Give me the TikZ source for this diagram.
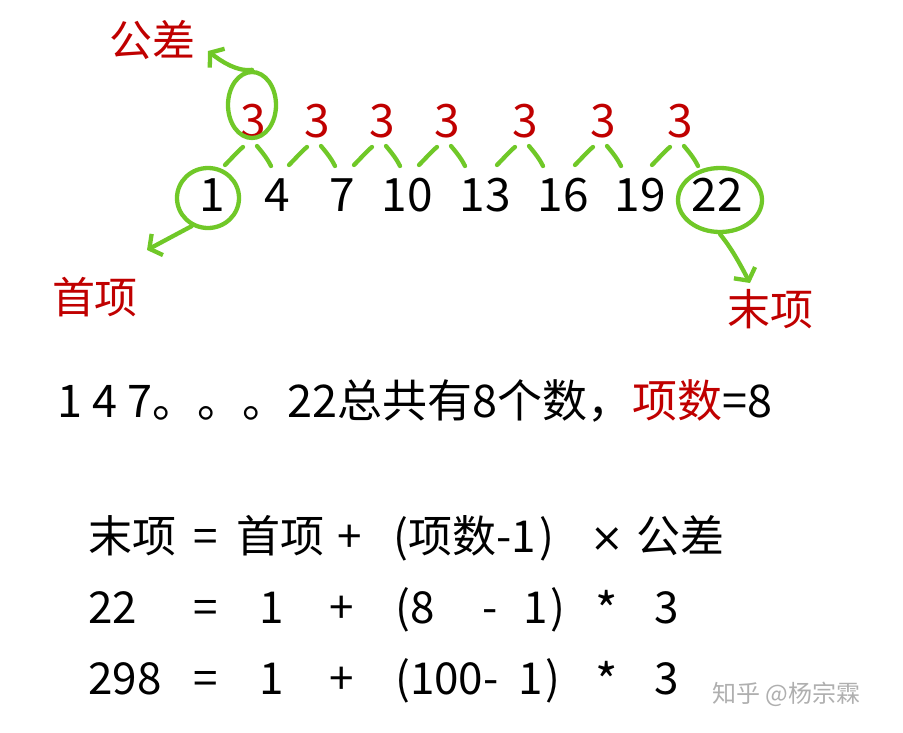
\documentclass[tikz,border=0pt]{standalone}
\usepackage{fontspec}
\setmainfont{Noto Sans CJK SC}
\newfontfamily\symfont{DejaVu Sans}
\usetikzlibrary{arrows.meta,shapes.geometric}
\definecolor{dred}{RGB}{192,0,0}
\definecolor{lgreen}{RGB}{112,200,40}
\definecolor{wm}{RGB}{175,175,175}
\begin{document}
\begin{tikzpicture}[x=1pt,y=-1pt,
  big/.style={font=\fontsize{46}{52}\selectfont, inner sep=0pt, anchor=base},
  num/.style={big},
  red3/.style={big, text=dred},
  lab/.style={font=\fontsize{43}{50}\selectfont, inner sep=0pt, text=dred},
  txt/.style={font=\fontsize{44}{50}\selectfont, inner sep=0pt, anchor=base west},
  ctr/.style={font=\fontsize{44}{50}\selectfont, inner sep=0pt, anchor=base},
  star/.style={font=\fontsize{48}{54}\selectfont, inner sep=0pt, anchor=base},
  gl/.style={draw=lgreen, line width=4.3pt, line cap=round, line join=round},
  ring/.style={gl, ellipse, inner sep=0pt},
  arr/.style={gl, -{Straight Barb[length=9pt,width=24pt,line width=4.3pt]}}
]
\useasboundingbox (0,0) rectangle (903,732);

% bottom row numbers
\node[num] (n1) at (212,211) {1};
\node[num] (n2) at (277,211) {4};
\node[num] (n3) at (342,211) {7};
\node[num] (n4) at (407,211) {10};
\node[num] (n5) at (485,211) {13};
\node[num] (n6) at (563,211) {16};
\node[num] (n7) at (640,211) {19};
\node[num] (n8) at (717,211) {22};

% differences
\node[red3] (d1) at (253,137) {3};
\node[red3] (d2) at (317,137) {3};
\node[red3] (d3) at (382,137) {3};
\node[red3] (d4) at (447,137) {3};
\node[red3] (d5) at (525,137) {3};
\node[red3] (d6) at (603,137) {3};
\node[red3] (d7) at (680,137) {3};

% green arches
\foreach \m in {253,317,382,447,525,603,680}{
  \draw[gl] (\m-28,165) .. controls (\m-22,159) and (\m-15,151) .. (\m-10,147);
  \draw[gl] (\m+4,146) .. controls (\m+9,152) and (\m+14,158) .. (\m+18,166);
}

% labels
\node[lab] (gc) at (152,40) {公差};
\node[lab] (sx) at (95,297) {首项};
\node[lab] (mx) at (770,309) {末项};

% rings
\node[ring, minimum width=48pt, minimum height=66pt] (c1) at (252,105) {};
\node[ring, minimum width=62pt, minimum height=60pt] (c2) at (208,198) {};
\node[ring, minimum width=84pt, minimum height=64pt] (c3) at (720,200) {};

\coordinate (tgc) at (208,51);
\coordinate (tsx) at (147,250);
\coordinate (tmx) at (750,283);
\draw[arr] (c1.north) .. controls (238,72) and (222,62) .. (tgc);
\draw[arr] (c2.240) -- (tsx);
\draw[arr] (c3.south) .. controls (733,250) and (742,268) .. (tmx);

% sentence line
\node[txt, font=\fontsize{45}{50}\selectfont] (s1) at (57,417) {1 4 7。。。22总共有8个数，\textcolor{dred}{项数}=8};

% formula line 1
\node[txt] (a1) at (88,552) {末项};
\node[ctr] (a2) at (206,552) {=};
\node[txt] (a3) at (236,552) {首项};
\node[ctr] (a4) at (350,552) {+};
\node[txt] (a5) at (393,552) {(项数-1\kern4pt)};
\node[ctr, font=\symfont\fontsize{40}{46}\selectfont] (a6) at (607,551) {×};
\node[txt] (a7) at (636,552) {公差};

% formula line 2
\node[txt] (b1) at (88,623) {22};
\node[ctr] (b2) at (206,623) {=};
\node[ctr] (b3) at (272,623) {1};
\node[ctr] (b4) at (342,623) {+};
\node[txt] (b5) at (395,623) {(8};
\node[ctr] (b6) at (490,623) {-};
\node[txt] (b7) at (523,623) {1\kern3pt)};
\node[star] (b8) at (607,628) {*};
\node[ctr] (b9) at (667,623) {3};

% formula line 3
\node[txt] (e1) at (88,694) {298};
\node[ctr] (e2) at (206,694) {=};
\node[ctr] (e3) at (272,694) {1};
\node[ctr] (e4) at (342,694) {+};
\node[txt] (e5) at (395,694) {(100-};
\node[txt] (e6) at (518,694) {1\kern3pt)};
\node[star] (e8) at (607,699) {*};
\node[ctr] (e9) at (667,694) {3};

% watermark
\node[font=\fontsize{24}{28}\selectfont, text=wm, inner sep=0pt, anchor=base west] (wmk) at (712,702) {知乎 @杨宗霖};
\end{tikzpicture}
\end{document}
